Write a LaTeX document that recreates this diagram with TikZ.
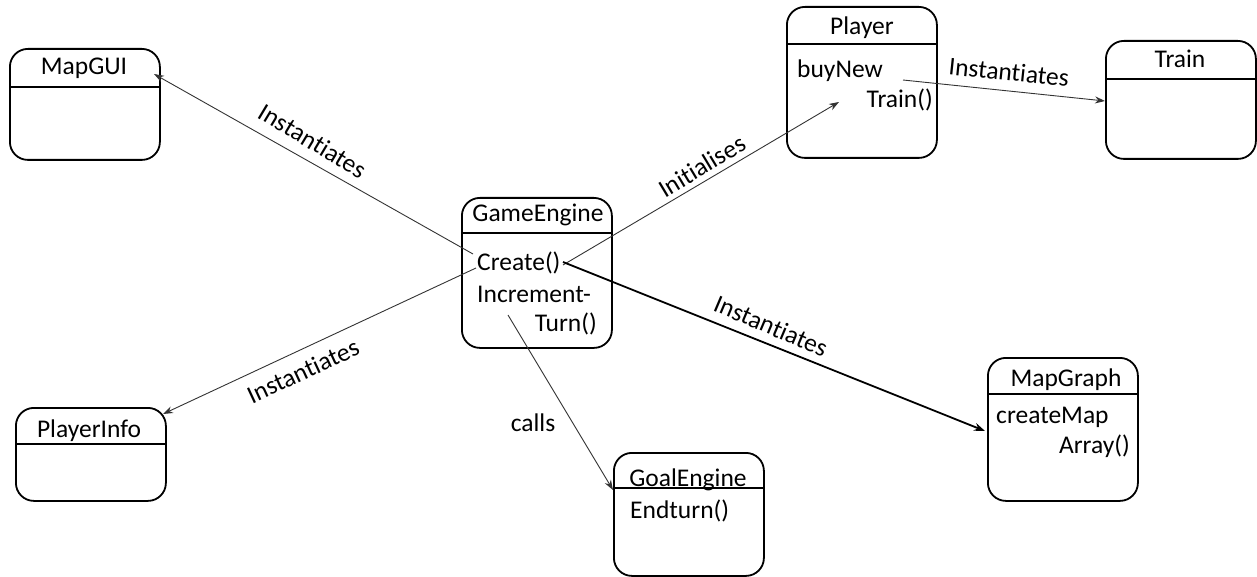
\documentclass[tikz,border=0pt]{standalone}
\usepackage{fontspec}
\setmainfont{Carlito}[Ligatures=NoCommon]
\usetikzlibrary{arrows.meta}
\begin{document}
\begin{tikzpicture}[x=1pt,y=-1pt,
  every node/.style={font=\fontsize{25.5}{28}\selectfont, inner sep=0pt},
  box/.style={draw, line width=1.8pt, rounded corners=18pt, anchor=north west, minimum width=#1},
  box/.default=150pt,
  divider/.style={line width=1.6pt},
  arr/.style={draw=black!80, line width=0.9pt, -{Stealth[length=10pt,width=7pt]}},
  arrthick/.style={draw=black, line width=1.8pt, -{Stealth[length=11pt,width=8pt]}},
  lbl/.style={anchor=center},
  title/.style={anchor=base},
  meth/.style={anchor=base west},
  methr/.style={anchor=base east}]
\useasboundingbox (0,0) rectangle (1257,577);

% boxes
\node[box, minimum height=111pt] (mapgui) at (9,48) {};
\node[box, minimum height=93pt] (playerinfo) at (15,407) {};
\node[box, minimum height=150pt] (gameengine) at (461,197) {};
\node[box, minimum height=151pt] (player) at (786,6) {};
\node[box, minimum height=118pt] (train) at (1105,40) {};
\node[box, minimum height=143pt] (mapgraph) at (987,357) {};
\node[box, minimum height=123pt] (goalengine) at (613,452) {};

% dividers
\draw[divider] (mapgui.north west) ++(0,39) -- ++(150,0);
\draw[divider] (playerinfo.north west) ++(0,37) -- ++(150,0);
\draw[divider] (gameengine.north west) ++(0,36) -- ++(150,0);
\draw[divider] (player.north west) ++(0,38) -- ++(150,0);
\draw[divider] (train.north west) ++(0,39) -- ++(150,0);
\draw[divider] (mapgraph.north west) ++(0,37) -- ++(150,0);
\draw[divider] (goalengine.north west) ++(0,36) -- ++(150,0);

% titles
\node[title] (t-mapgui) at (84,75) {MapGUI};
\node[title] (t-playerinfo) at (89,437) {PlayerInfo};
\node[title] (t-gameengine) at (538,222) {GameEngine};
\node[title] (t-player) at (862,35) {Player};
\node[title] (t-train) at (1180,68) {Train};
\node[title] (t-mapgraph) at (1066,386) {MapGraph};
\node[title] (t-goalengine) at (688,486) {GoalEngine};

% methods
\node[meth] (m-create) at (477,270) {Create()};
\node[meth] (m-incr) at (477,302) {Increment-};
\node[methr] (m-turn) at (597,331) {Turn()};
\node[meth] (m-buynew) at (797,78) {buyNew};
\node[methr] (m-train) at (933,108) {Train()};
\node[meth] (m-createmap) at (996,423) {createMap};
\node[methr] (m-array) at (1130,453) {Array()};
\node[meth] (m-endturn) at (630,518) {Endturn()};

% connector end points
\coordinate (ge-a) at (473,254);
\coordinate (ge-b) at (476,268);
\coordinate (ge-c) at (563,265);
\coordinate (ge-d) at (563,262);
\coordinate (ge-e) at (508,315);
\coordinate (mapgui-in) at (154,74);
\coordinate (pinfo-in) at (163,414);
\coordinate (player-in) at (839,102);
\coordinate (player-out) at (903,80);
\coordinate (train-in) at (1105,101);
\coordinate (mapgraph-in) at (985,431);
\coordinate (goal-in) at (613,490);

% connectors
\draw[arr] (ge-a) -- (mapgui-in);
\draw[arr] (ge-b) -- (pinfo-in);
\draw[arr] (ge-c) -- (player-in);
\draw[arr] (player-out) -- (train-in);
\draw[arrthick] (ge-d) -- (mapgraph-in);
\draw[arr] (ge-e) -- (goal-in);

% labels
\node[lbl, rotate=-31] (l1) at (313,141) {Instantiates};
\node[lbl, rotate=25] (l2) at (303,371) {Instantiates};
\node[lbl, rotate=31] (l3) at (702,166) {Initialises};
\node[lbl, rotate=-6] (l4) at (1009,72) {Instantiates};
\node[lbl, rotate=-23] (l5) at (771,326) {Instantiates};
\node[lbl] (l6) at (533,423) {calls};
\end{tikzpicture}
\end{document}
